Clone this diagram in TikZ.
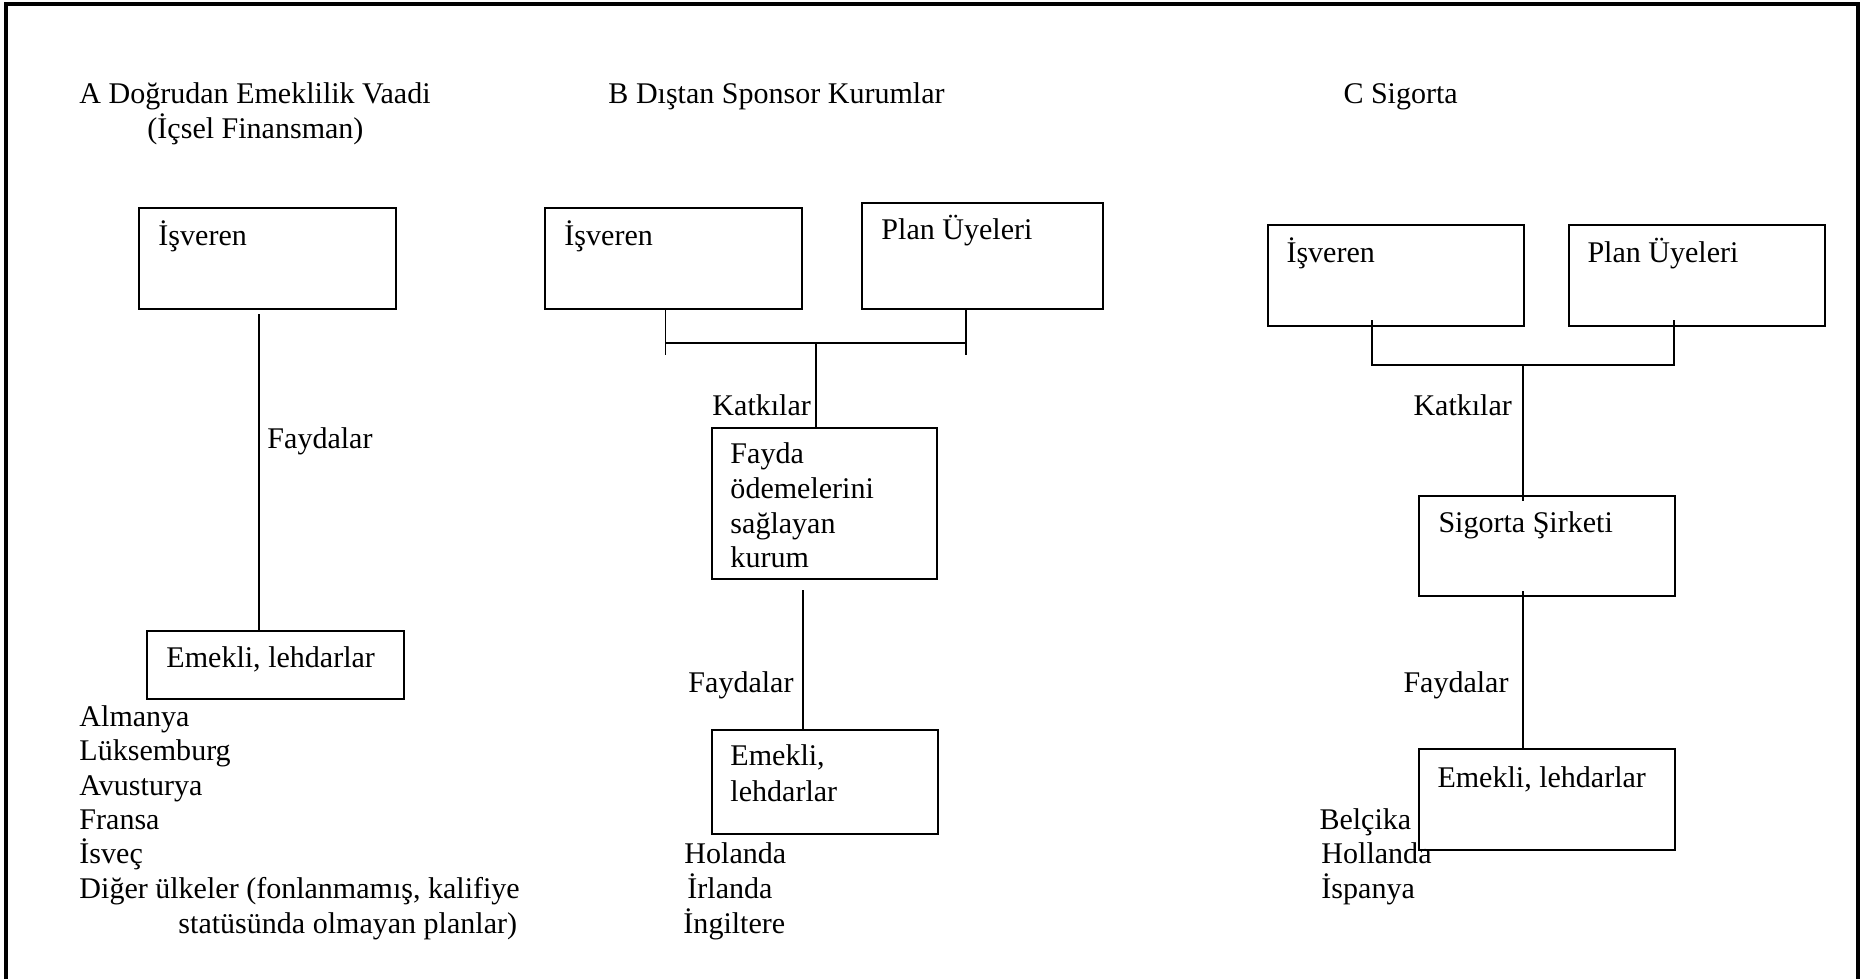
\documentclass[tikz,border=0pt]{standalone}
\usepackage{fontspec}
\setmainfont{Liberation Serif}
\newcommand\pxu{0.4096pt}
\begin{document}
\begin{tikzpicture}[x=0.4096pt,y=-0.4096pt,
  box/.style={draw,line width=0.75pt,rectangle,inner sep=0pt,anchor=north west},
  lbl/.style={anchor=base west,inner sep=0pt,font=\fontsize{12.3}{14}\selectfont},
  conn/.style={line width=0.7pt},
  frame/.style={line width=1.3pt}]
\useasboundingbox (0,0) rectangle (1873,979);
% frame (open at bottom)
\draw[frame] (6,979) -- (6,4) -- (1858,4) -- (1858,979);

% titles
\node[lbl] (ta) at (79,103) {A Doğrudan Emeklilik Vaadi};
\node[lbl] (ta2) at (147,138) {(İçsel Finansman)};
\node[lbl] (tb) at (608,103) {B Dıştan Sponsor Kurumlar};
\node[lbl] (tc) at (1343,103) {C Sigorta};

% ---------- A ----------
\node[box,minimum width=257*\pxu,minimum height=101*\pxu] (aisv) at (138,207) {};
\node[lbl] (aisvt) at (158,245) {İşveren};
\node[box,minimum width=257*\pxu,minimum height=68*\pxu] (aem) at (146,630) {};
\node[lbl] (aemt) at (166,667) {Emekli, lehdarlar};
\coordinate (a1) at (259,314);
\coordinate (a2) at (259,630);
\draw[conn] (a1) -- (a2);
\node[lbl] (afay) at (267,448) {Faydalar};
\node[lbl] (al1) at (79,726) {Almanya};
\node[lbl] (al2) at (79,760) {Lüksemburg};
\node[lbl] (al3) at (79,795) {Avusturya};
\node[lbl] (al4) at (79,829) {Fransa};
\node[lbl] (al5) at (79,863) {İsveç};
\node[lbl] (al6) at (79,898) {Diğer ülkeler (fonlanmamış, kalifiye};
\node[lbl] (al7) at (178,933) {statüsünda olmayan planlar)};

% ---------- B ----------
\node[box,minimum width=257*\pxu,minimum height=101*\pxu] (bisv) at (544,207) {};
\node[lbl] (bisvt) at (564,245) {İşveren};
\node[box,minimum width=241*\pxu,minimum height=106*\pxu] (bplan) at (861,202) {};
\node[lbl] (bplant) at (881,239) {Plan Üyeleri};
\node[box,minimum width=225*\pxu,minimum height=151*\pxu] (bfay) at (711,427) {};
\node[lbl] (bf1) at (730,463) {Fayda};
\node[lbl] (bf2) at (730,498) {ödemelerini};
\node[lbl] (bf3) at (730,533) {sağlayan};
\node[lbl] (bf4) at (730,567) {kurum};
\node[box,minimum width=226*\pxu,minimum height=104*\pxu] (bem) at (711,729) {};
\node[lbl] (bem1) at (730,765) {Emekli,};
\node[lbl] (bem2) at (730,801) {lehdarlar};
\coordinate (b1t) at (665.5,308);
\coordinate (b1b) at (665.5,355);
\coordinate (b1m) at (665.5,343);
\coordinate (b2t) at (966,308);
\coordinate (b2b) at (966,355);
\coordinate (b2m) at (966,343);
\coordinate (bc) at (816,343);
\coordinate (bct) at (816,427);
\draw[conn] (b1t) -- (b1b);
\draw[conn] (b2t) -- (b2b);
\draw[conn] (b1m) -- (b2m);
\draw[conn] (bc) -- (bct);
\coordinate (bd1) at (803,590);
\coordinate (bd2) at (803,729);
\draw[conn] (bd1) -- (bd2);
\node[lbl] (bkat) at (712,415) {Katkılar};
\node[lbl] (bfayd) at (688,692) {Faydalar};
\node[lbl] (bl1) at (684,863) {Holanda};
\node[lbl] (bl2) at (687,898) {İrlanda};
\node[lbl] (bl3) at (683,933) {İngiltere};

% ---------- C ----------
\node[box,minimum width=256*\pxu,minimum height=101*\pxu] (cisv) at (1267,224) {};
\node[lbl] (cisvt) at (1286,262) {İşveren};
\node[box,minimum width=256*\pxu,minimum height=101*\pxu] (cplan) at (1568,224) {};
\node[lbl] (cplant) at (1587,262) {Plan Üyeleri};
\node[box,minimum width=256*\pxu,minimum height=100*\pxu] (csig) at (1418,495) {};
\node[lbl] (csigt) at (1438,532) {Sigorta Şirketi};
\node[box,minimum width=256*\pxu,minimum height=101*\pxu] (cem) at (1418,748) {};
\node[lbl] (cemt) at (1437,787) {Emekli, lehdarlar};
\coordinate (c1t) at (1372,320);
\coordinate (c1b) at (1372,365);
\coordinate (c2t) at (1674,320);
\coordinate (c2b) at (1674,365);
\coordinate (cc) at (1523,365);
\coordinate (cct) at (1523,501);
\draw[conn] (c1t) -- (c1b) -- (c2b) -- (c2t);
\draw[conn] (cc) -- (cct);
\coordinate (cd1) at (1523,591);
\coordinate (cd2) at (1523,748);
\draw[conn] (cd1) -- (cd2);
\node[lbl] (ckat) at (1413,415) {Katkılar};
\node[lbl] (cfayd) at (1403,692) {Faydalar};
\node[lbl] (cl1) at (1319,829) {Belçika};
\node[lbl] (cl2) at (1321,863) {Hollanda};
\node[lbl] (cl3) at (1321,898) {İspanya};
\end{tikzpicture}
\end{document}
